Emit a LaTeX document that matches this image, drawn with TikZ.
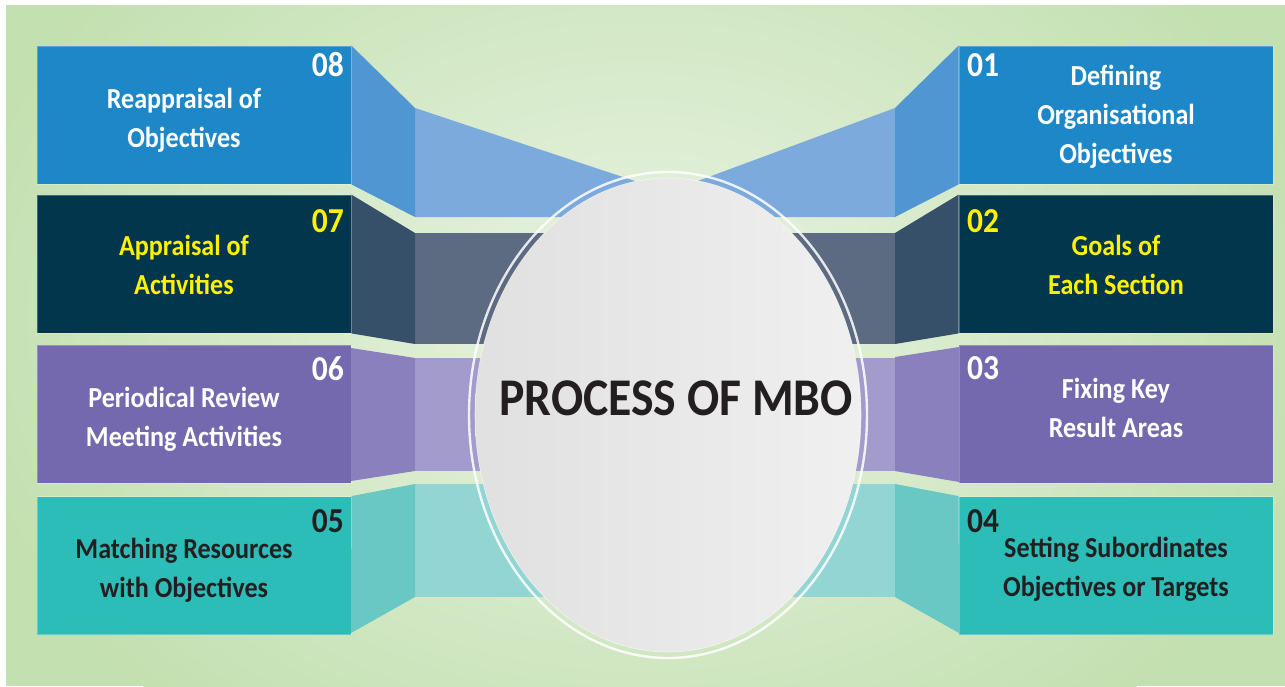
\documentclass[tikz,border=0pt]{standalone}
\usepackage{fontspec}
\setmainfont{Carlito}[FakeStretch=0.9]
\usetikzlibrary{shapes.geometric}
\definecolor{bgout}{HTML}{C3E0B0}
\definecolor{bgin}{HTML}{EAF4E4}
\definecolor{bluebox}{HTML}{1E87C8}
\definecolor{bluedark}{HTML}{5096D2}
\definecolor{bluelight}{HTML}{7DAADC}
\definecolor{navybox}{HTML}{02364C}
\definecolor{navydark}{HTML}{37506A}
\definecolor{navylight}{HTML}{5C6B82}
\definecolor{purpbox}{HTML}{7469AE}
\definecolor{purpdark}{HTML}{8A80BE}
\definecolor{purplight}{HTML}{A39BCB}
\definecolor{tealbox}{HTML}{2DBDB8}
\definecolor{tealdark}{HTML}{6AC8C4}
\definecolor{teallight}{HTML}{93D5D3}
\definecolor{ytxt}{HTML}{FFF200}
\definecolor{dtxt}{HTML}{231F20}
\begin{document}
\begin{tikzpicture}[x=1pt,y=-1pt,
  stepbox/.style={rectangle, inner sep=0pt, minimum width=314pt, minimum height=138pt, draw=white, draw opacity=0.25, line width=0.8pt},
  boxtext/.style={font=\bfseries\fontsize{29}{39}\selectfont, align=center, anchor=base, inner sep=0pt},
  numtext/.style={font=\bfseries\fontsize{35}{35}\selectfont, inner sep=0pt}]
\useasboundingbox (0,0) rectangle (1285,686);
\fill[bgout] (0,0) rectangle (1285,686);
\begin{scope}
\clip (6,5) rectangle (1290,692);
\shade[inner color=bgin, outer color=bgout] (640,320) ellipse [x radius=700pt, y radius=520pt];
\end{scope}
\fill[white] (0,0) rectangle (1285,5);
\fill[white] (0,0) rectangle (6,686);
% boxes
\node[stepbox, fill=bluebox] (b8) at (194,115) {};
\node[stepbox, fill=navybox] (b7) at (194,264) {};
\node[stepbox, fill=purpbox] (b6) at (194,414) {};
\node[stepbox, fill=tealbox] (b5) at (194,565.5) {};
\node[stepbox, fill=bluebox] (b1) at (1116,115) {};
\node[stepbox, fill=navybox] (b2) at (1116,264) {};
\node[stepbox, fill=purpbox] (b3) at (1116,414) {};
\node[stepbox, fill=tealbox] (b4) at (1116,565.5) {};
% light strip parts (behind hub)
\fill[bluelight] (415,108) -- (668,192) -- (895,108) -- (895,217) -- (415,217) -- cycle;
\fill[navylight] (415,233) rectangle (895,344);
\fill[purplight] (415,358) rectangle (895,471);
\fill[teallight] (415,484) rectangle (895,597);
% dark strip parts
\fill[bluedark] (b8.north east) -- (415,108) -- (415,217) -- (b8.south east) -- cycle;
\fill[navydark] (b7.north east) -- (415,233) -- (415,344) -- (b7.south east) -- cycle;
\fill[purpdark] (351,348) -- (415,358) -- (415,471) -- (351,481) -- cycle;
\fill[tealdark] (b5.north east) -- (415,484) -- (415,597) -- (351,633) -- cycle;
\fill[bluedark] (b1.north west) -- (895,108) -- (895,217) -- (b1.south west) -- cycle;
\fill[navydark] (b2.north west) -- (895,233) -- (895,344) -- (b2.south west) -- cycle;
\fill[purpdark] (959,347) -- (895,357) -- (895,471) -- (959,482) -- cycle;
\fill[tealdark] (b4.north west) -- (895,484) -- (895,597) -- (959,633) -- cycle;
% hub
\draw[white, draw opacity=0.85, line width=2.4pt] (668,415) ellipse [x radius=199pt, y radius=243pt];
\node[ellipse, inner sep=0pt, minimum width=386pt, minimum height=474pt, left color=black!12, right color=black!6, draw=white, draw opacity=0.6, line width=0.6pt] (hub) at (668,415) {};
\node[font=\bfseries\fontsize{53}{53}\selectfont, text=dtxt, anchor=base, inner sep=0pt] (title) at (676,415) {PROCESS OF MBO};
% texts left (anchor base = last line)
\node[boxtext, text=white] (t8) at (184,147) {Reappraisal of\\Objectives};
\node[boxtext, text=ytxt] (t7) at (184,294) {Appraisal of\\Activities};
\node[boxtext, text=white] (t6) at (184,446) {Periodical Review\\Meeting Activities};
\node[boxtext, text=dtxt] (t5) at (184,597) {Matching Resources\\with Objectives};
\node[numtext, text=white, anchor=base east] (n8) at (344,76) {08};
\node[numtext, text=ytxt, anchor=base east] (n7) at (344,232) {07};
\node[numtext, text=white, anchor=base east] (n6) at (344,380) {06};
\node[numtext, text=dtxt, anchor=base east] (n5) at (344,532) {05};
% texts right
\node[boxtext, text=white] (t1) at (1116,163) {Defining\\Organisational\\Objectives};
\node[boxtext, text=ytxt] (t2) at (1116,294) {Goals of\\Each Section};
\node[boxtext, text=white] (t3) at (1116,437) {Fixing Key\\Result Areas};
\node[boxtext, text=dtxt] (t4) at (1116,596) {Setting Subordinates\\Objectives or Targets};
\node[numtext, text=white, anchor=base west] (n1) at (967,76) {01};
\node[numtext, text=ytxt, anchor=base west] (n2) at (967,232) {02};
\node[numtext, text=white, anchor=base west] (n3) at (967,379) {03};
\node[numtext, text=dtxt, anchor=base west] (n4) at (967,532) {04};
\end{tikzpicture}
\end{document}
